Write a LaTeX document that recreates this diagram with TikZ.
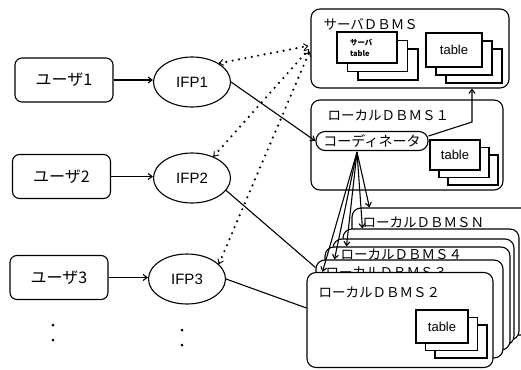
\documentclass[tikz,border=0pt]{standalone}
\usepackage{fontspec}
\setmainfont{Liberation Sans}
\newfontfamily\jp{Noto Sans CJK JP}
\usetikzlibrary{arrows.meta,positioning,calc,shapes.geometric}

\begin{document}
\begin{tikzpicture}[x=1pt,y=-1pt,line width=1.1pt,
  user/.style={draw,rounded corners=7pt,minimum width=98pt,minimum height=44pt,font=\jp\fontsize{16}{18}\selectfont},
  ifp/.style={draw,ellipse,minimum width=77pt,minimum height=50pt,inner sep=0pt,font=\fontsize{15}{17}\selectfont},
  dbms/.style={draw,fill=white,rounded corners=9pt,inner sep=0pt},
  lbl/.style={anchor=west,inner sep=0pt,font=\jp\fontsize{13.5}{15}\selectfont},
  tbl/.style 2 args={draw,fill=white,minimum width=#1,minimum height=#2,inner sep=0pt,font=\fontsize{13}{15}\selectfont},
  arr/.style={-{Straight Barb[length=4pt,width=6pt]}},
  dotarr/.style={{Straight Barb[length=4pt,width=6pt,line width=0.9pt]}-{Straight Barb[length=4pt,width=6pt,line width=0.9pt]},line width=2.4pt,dash pattern=on 0pt off 6.5pt,line cap=round}]
    \useasboundingbox (0,0) rectangle (521,369);
    \clip (0,0) rectangle (521,369);
    \node[user] (u1) at (64,80) {ユーザ1};
    \node[user] (u2) at (61.5,176.5) {ユーザ2};
    \node[user] (u3) at (59,277.5) {ユーザ3};
    \node[ifp] (p1) at (192,82) {IFP1};
    \node[ifp] (p2) at (192,178) {IFP2};
    \node[ifp] (p3) at (187,279) {IFP3};
    \foreach \i in {1,2,3} \draw[arr] (u\i.east) -- (u\i.east -| p\i.west);
    \foreach \x/\y in {53/325,53/340,182/330,182/345} \fill (\x,\y) circle (1.5pt);
    \node[dbms,minimum width=198pt,minimum height=79pt] (srv) at (410,48.5) {};
    \node[lbl] (srvlbl) at (323,24) {サーバＤＢＭＳ};
    \foreach \d in {2,1} \node[tbl={60pt}{31pt}] (sa\d) at ($(367,47.5)+\d*(10.5,8.5)$) {};
    \node[tbl={60pt}{31pt},text width=34pt,align=left,font=\jp\bfseries\fontsize{7.5}{11}\selectfont] (sa) at (367,47.5) {サーバ\\table};
    \foreach \d in {2,1} \node[tbl={56pt}{34pt}] (sb\d) at ($(454,50)+\d*(10,8)$) {};
    \node[tbl={56pt}{34pt}] (sb) at (454,50) {table};
    \node[dbms,minimum width=192pt,minimum height=90pt] (l1) at (407,145) {};
    \node[lbl] (l1lbl) at (327,115) {ローカルＤＢＭＳ１};
    \node[draw,rounded corners=9pt,minimum width=112pt,minimum height=19pt,inner sep=0pt,font=\jp\fontsize{14}{16}\selectfont] (crd) at (372,141) {コーディネータ};
    \foreach \d in {2,1} \node[tbl={50pt}{30pt}] (lt\d) at ($(455,155)+\d*(9,7.5)$) {};
    \node[tbl={50pt}{30pt}] (lt) at (455,155) {table};
    \node[dbms,minimum width=190pt,minimum height=127pt] (dN) at (447,271.5) {};
    \node[lbl] (dNlbl) at (362,222) {ローカルＤＢＭＳＮ};
    \node[dbms,minimum width=176pt,minimum height=111pt] (dA) at (431,284.5) {};
    \node[dbms,minimum width=181pt,minimum height=106pt] (dB) at (423.5,292) {};
    \node[dbms,minimum width=185pt,minimum height=103pt] (d4) at (417.5,298.5) {};
    \node[lbl] (d4lbl) at (340,254) {ローカルＤＢＭＳ４};
    \node[dbms,minimum width=187pt,minimum height=98pt] (d3) at (409.5,309) {};
    \node[lbl] (d3lbl) at (325,272) {ローカルＤＢＭＳ３};
    \node[dbms,minimum width=186pt,minimum height=95pt] (d2) at (400,320) {};
    \node[lbl] (d2lbl) at (318,292) {ローカルＤＢＭＳ２};
    \foreach \d in {2,1} \node[tbl={52pt}{33pt}] (dt\d) at ($(442,326.5)+\d*(9.5,7.5)$) {};
    \node[tbl={52pt}{33pt}] (dt) at (442,326.5) {table};
    \coordinate (fan) at ($(crd.south)+(-15,1)$);
    \coordinate (bend) at (472,122);
    \foreach \b/\dx in {dN/18,dA/20,d4/22,d3/19,d2/16} \draw[arr] (fan) -- ($(\b.north west)+(\dx,0)$);
    \draw[arr] (p1.east) -- (crd.west);
    \draw (p2.-20) -- ([yshift=-8pt]d3.north west);
    \draw (p3.east) -- ([yshift=12pt]d2.west);
    \draw[arr] ([yshift=5pt]crd.east) -- (bend) -- (bend |- srv.south);
    \foreach \p/\a/\s in {p1/35/3,p2/45/1,p3/25/-1} \draw[dotarr,shorten >=2pt] (\p.\a) -- ([yshift=\s pt]srv.west);
  \end{tikzpicture}
\end{document}
